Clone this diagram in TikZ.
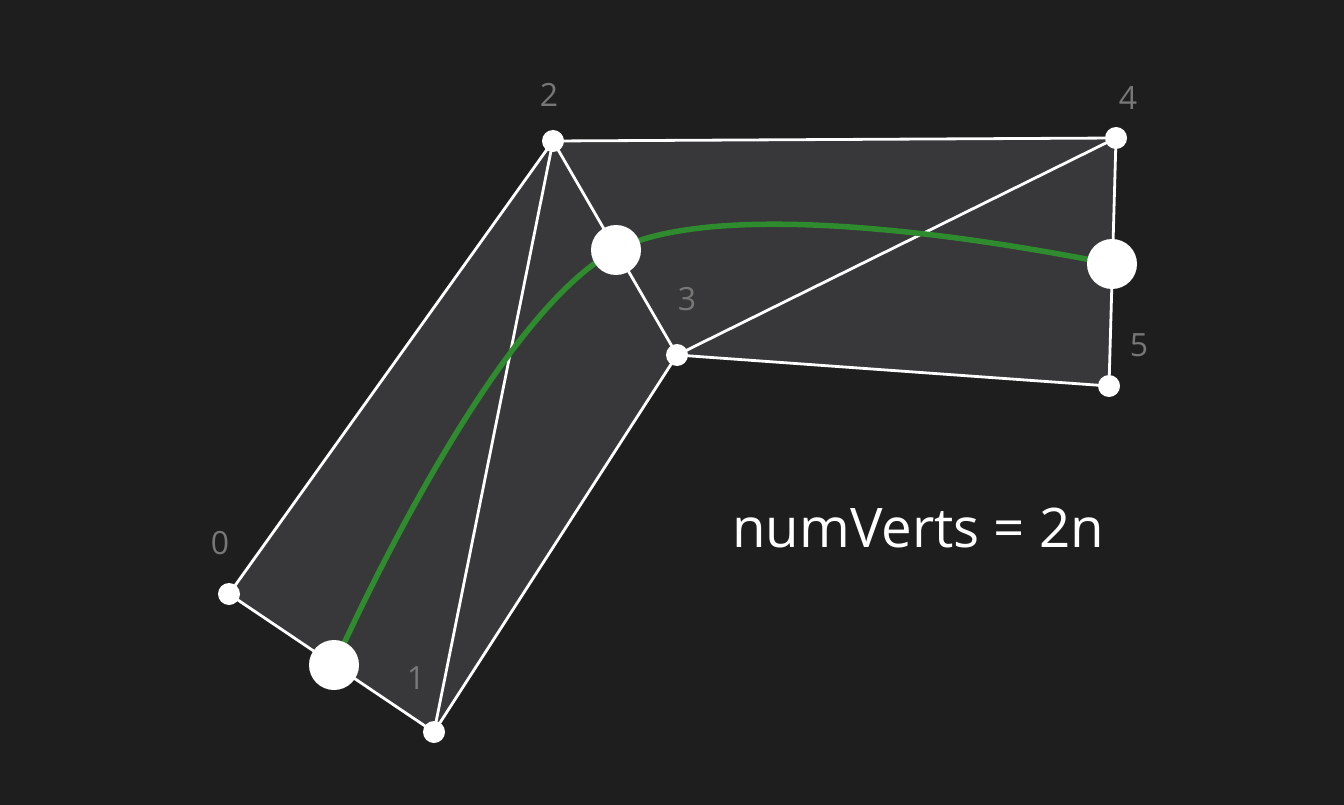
\documentclass[tikz,border=0pt]{standalone}
\usepackage{fontspec}
\setmainfont{Open Sans}
\definecolor{bg}{HTML}{1E1E1E}
\definecolor{meshfill}{HTML}{38383A}
\definecolor{curvegreen}{HTML}{2E8B2E}
\definecolor{labgray}{HTML}{777777}
\tikzset{
  edge/.style={draw=white, line width=2.8pt},
  vdot/.style={circle, fill=white, inner sep=0pt, minimum size=22pt},
  bigdot/.style={circle, fill=white, inner sep=0pt, minimum size=50pt},
  vlabel/.style={text=labgray, font=\fontsize{32}{32}\selectfont, inner sep=0pt},
  spline/.style={draw=curvegreen, line width=5.5pt}
}
\begin{document}
\begin{tikzpicture}[x=1pt,y=-1pt]
\fill[bg] (0,0) rectangle (1344,805);
\useasboundingbox (0,0) rectangle (1344,805);
\coordinate (v0) at (229,594);
\coordinate (v1) at (434,732);
\coordinate (v2) at (553,141);
\coordinate (v3) at (677,355);
\coordinate (v4) at (1116,138);
\coordinate (v5) at (1109,386);
\fill[meshfill] (v0) -- (v2) -- (v4) -- (v5) -- (v3) -- (v1) -- cycle;
\path[edge] (v0) -- (v2) -- (v4) -- (v5) -- (v3) -- (v1) -- cycle;
\path[edge] (v2) -- (v1);
\path[edge] (v2) -- (v3);
\path[edge] (v3) -- (v4);
\coordinate (c0) at (334,665);
\coordinate (c1) at (616,250);
\coordinate (c2) at (1112,264);
\path[spline] (c0) .. controls (405,510) and (520,300) .. (c1)
  .. controls (700,207) and (900,222) .. (c2);
\foreach \v in {v0,v1,v2,v3,v4,v5} \node[vdot] (d\v) at (\v) {};
\node[bigdot] (b0) at (c0) {};
\node[bigdot] (b1) at (c1) {};
\node[bigdot] (b2) at (c2) {};
\node[vlabel] (l0) at (220,543) {0};
\node[vlabel] (l1) at (416,678) {1};
\node[vlabel] (l2) at (549,95) {2};
\node[vlabel] (l3) at (687,299) {3};
\node[vlabel] (l4) at (1128,98) {4};
\node[vlabel] (l5) at (1139,345) {5};
\node[text=white, font=\fontsize{54.6}{54.6}\selectfont, inner sep=0pt, anchor=base west] (t) at (732,547) {numVerts = 2n};
\end{tikzpicture}
\end{document}
